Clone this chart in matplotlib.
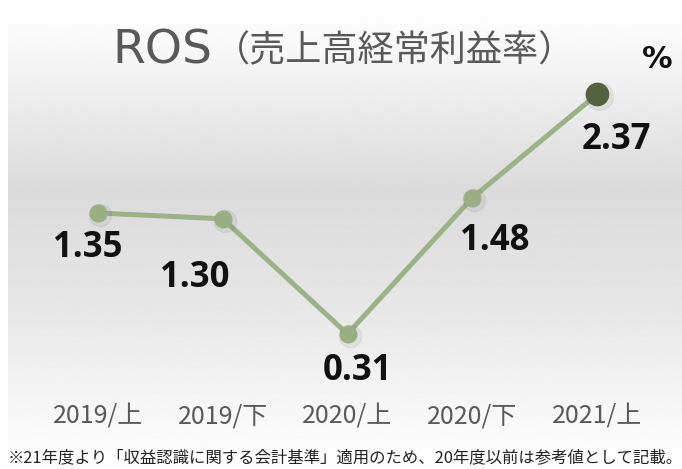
import matplotlib.pyplot as plt
import matplotlib.transforms as mtransforms
import numpy as np

# data
periods = ['2019/上', '2019/下', '2020/上', '2020/下', '2021/上']
ros = [1.35, 1.30, 0.31, 1.48, 2.37]
title_latin = 'ROS'
title_jp = '（売上高経常利益率）'
unit = '%'
note = '※21年度より「収益認識に関する会計基準」適用のため、20年度以前は参考値として記載。'

# label offsets in pixels (dx, dy) relative to each point
label_off = [(-10, -35), (-28, -59), (10, -37), (23, -43), (19, -46)]

W, H = 682, 469
fig = plt.figure(figsize=(W/100, H/100), dpi=100)

# gradient background panel
bg = fig.add_axes([8/W, 0, 1-8/W, 1])
ypx = np.arange(H)
stops_y = [0, 30, 190, 300, 440, 469]
stops_v = [1.0, 0.985, 0.855, 0.90, 0.985, 1.0]
g = np.interp(ypx, stops_y, stops_v)
bg.imshow(g[:, None], aspect='auto', cmap='gray', vmin=0, vmax=1,
          extent=[0, 1, 1, 0], interpolation='bilinear')
bg.set_xlim(0, 1)
bg.set_ylim(1, 0)
bg.axis('off')

# main axes mapped to pixels
ax = fig.add_axes([0, 0, 1, 1], facecolor='none')
x0, step = 98, 124.75
y0, scale = 99, 116.3
ax.set_xlim(-x0/step, (W-x0)/step)
ax.set_ylim(-y0/scale, (H-y0)/scale)
ax.axis('off')

x = np.arange(len(ros))
ax.plot(x, ros, color='#9db08a', lw=3.6, solid_capstyle='round', zorder=2)

# soft shadow under the markers
shadow = ax.transData + mtransforms.ScaledTranslation(2/100, -2/100, fig.dpi_scale_trans)
ax.plot(x[:-1], ros[:-1], 'o', ms=16, color='k', alpha=0.05, zorder=2.5, transform=shadow)
ax.plot(x[-1:], ros[-1:], 'o', ms=20, color='k', alpha=0.05, zorder=2.5, transform=shadow)

ax.plot(x[:-1], ros[:-1], 'o', ms=12, color='#9aae86', zorder=3)
ax.plot(x[-1:], ros[-1:], 'o', ms=16, color='#556040', zorder=3)

for xi, v, (dx, dy) in zip(x, ros, label_off):
    ax.annotate('%.2f' % v, (xi, v), xytext=(dx, dy), textcoords='offset pixels',
                ha='center', va='center', fontsize=25, fontweight='bold',
                family='Open Sans', color='#111111')

for xi, p in zip(x, periods):
    ax.text(xi, (H - 423 - y0)/scale, p, ha='center', va='baseline', fontsize=18,
            family=['Noto Sans CJK JP', 'DejaVu Sans'], color='#595959')

# title
fig.text(212/W, 1-63/H, title_latin, ha='right', va='baseline', fontsize=34,
         family='DejaVu Sans', color='#595959')
fig.text(214/W, 1-61/H, title_jp, ha='left', va='baseline', fontsize=26,
         family='Noto Sans CJK JP', color='#595959')
fig.text(657/W, 1-60/H, unit, ha='center', va='center', fontsize=22,
         fontweight='bold', family='DejaVu Sans', color='#111111')

fig.text(8/W, 1-458/H, note, ha='left', va='center', fontsize=11.8,
         family=['Noto Sans CJK JP', 'DejaVu Sans'], color='#222222')

fig.savefig('out.png', dpi=100)
